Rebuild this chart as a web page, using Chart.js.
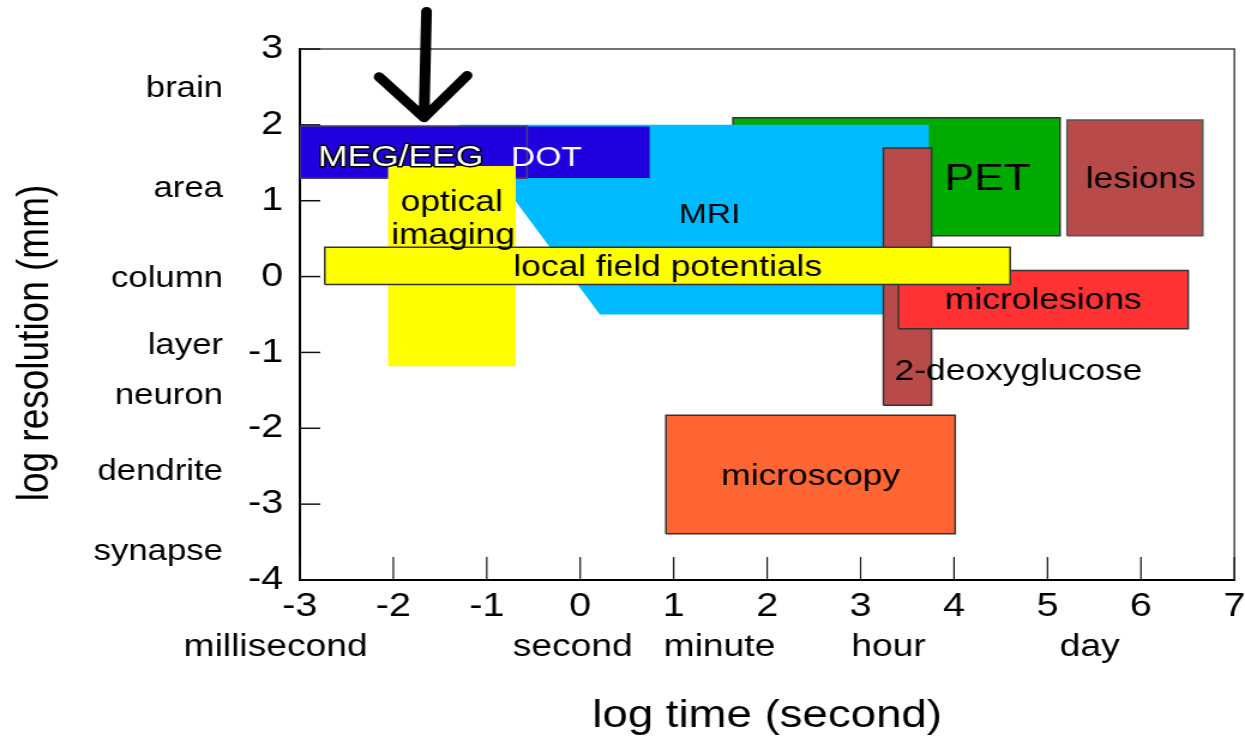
<!DOCTYPE html>
<html><head><meta charset="utf-8">
<script src="https://cdn.jsdelivr.net/npm/chart.js@4.4.1/dist/chart.umd.min.js"></script>
<style>
html,body{margin:0;padding:0;background:#fff;overflow:hidden;width:1245px;height:739px;}
#wrap{position:absolute;left:0;top:0;width:1038px;height:739px;transform:scaleX(1.19942);transform-origin:0 0;}
</style></head><body>
<div id="wrap"><canvas id="c"></canvas></div>
<script>
// ---------- data ----------
const xTicks = [-3,-2,-1,0,1,2,3,4,5,6,7];
const yTicks = [-4,-3,-2,-1,0,1,2,3];
const sizeNames = ['brain','area','column','layer','neuron','dendrite','synapse'];
const sizeRes   = [2.53, 1.21, 0.02, -0.86, -1.52, -2.53, -3.58];
const unitNames = ['millisecond','second','minute','hour','day'];
const unitTime  = [-3.26, -0.08, 1.49, 3.30, 5.45];

// rectangular methods (log time from/to, log resolution from/to)
const methods  = ['local field potentials','optical imaging','MEG/EEG','DOT','microlesions','2-deoxyglucose','PET','lesions','microscopy'];
const timeFrom = [-2.733, -2.056, -3.000, -1.500, 3.406, 3.244, 1.635, 5.209, 0.917];
const timeTo   = [ 4.601, -0.690, -0.569,  0.743, 6.505, 3.759, 5.134, 6.661, 4.012];
const resFrom  = [-0.106, -1.183,  1.297,  1.301, -0.687, -1.695, 0.539, 0.539, -3.390];
const resTo    = [ 0.386,  1.459,  1.984,  1.978,  0.079,  1.695, 2.095, 2.063, -1.827];

// MRI region outline
const mriTime = [-1.30, 3.73, 3.73, 0.21];
const mriRes  = [ 2.00, 2.00, -0.50, -0.50];

// hand-drawn arrow
const arrowTime = [-1.645, -1.671, -2.152, -1.671, -1.211];
const arrowRes  = [ 3.495,  2.095,  2.633,  2.095,  2.650];

// text labels inside the plot
const labelTexts = ['MEG/EEG','DOT','optical','imaging','MRI','local field potentials','PET','lesions','microlesions','2-deoxyglucose','microscopy'];
const labelTime  = [-1.922, -0.362, -1.374, -1.360, 1.385, 0.936, 4.360, 5.998, 4.955, 4.690, 2.466];
const labelRes   = [ 1.615,  1.615,  1.024,  0.587, 0.860, 0.170, 1.330, 1.330, -0.270, -1.197, -2.590];

// ---------- styles ----------
const FONT = "'Liberation Sans', Arial, Helvetica, sans-serif";
const TEXT_DY = 4; // baseline correction for 'middle' text
const fills = {
  'local field potentials':'#FFFF00','optical imaging':'#FFFF00','MEG/EEG':'#2200DD','DOT':'#2200DD',
  'microlesions':'#FF3333','2-deoxyglucose':'#B84A4A','PET':'#00AA00','lesions':'#B84A4A','microscopy':'#FF6633'
};
const borders = {
  'local field potentials':'#333333','optical imaging':null,'MEG/EEG':'#44446a','DOT':null,
  'microlesions':'#333333','2-deoxyglucose':'#333333','PET':'#333333','lesions':'#555555','microscopy':'#333333'
};
const labelStyle = {
  'MEG/EEG':{size:29.5,color:'#ffffff',stroke:'#000000'},
  'DOT':{size:28,color:'#ffffff'},
  'MRI':{size:28,color:'#000000'},
  'PET':{size:37,color:'#000000'}
};

function rectPoints(i){
  const a=timeFrom[i], b=timeTo[i], lo=resFrom[i], hi=resTo[i];
  return [{x:a,y:lo},{x:a,y:hi},{x:b,y:hi},{x:b,y:lo},{x:a,y:lo}];
}
function rectDataset(name){
  const i = methods.indexOf(name);
  const bc = borders[name];
  return {
    label:name, data:rectPoints(i), showLine:true, fill:'shape', tension:0,
    backgroundColor:fills[name], borderColor: bc || fills[name], borderWidth: bc ? 1.5 : 0,
    pointRadius:0, pointHoverRadius:0
  };
}
const mriPts = mriTime.map((t,i)=>({x:t,y:mriRes[i]}));
mriPts.push({x:mriTime[0],y:mriRes[0]});
const arrowPts = arrowTime.map((t,i)=>({x:t,y:arrowRes[i]}));

const datasets = [
  {label:'arrow', data:arrowPts, showLine:true, fill:false, tension:0, borderColor:'#000', borderWidth:9,
   borderCapStyle:'round', borderJoinStyle:'round', pointRadius:0, pointHoverRadius:0, clip:false},
  rectDataset('local field potentials'),
  rectDataset('optical imaging'),
  rectDataset('MEG/EEG'),
  rectDataset('DOT'),
  rectDataset('microlesions'),
  rectDataset('2-deoxyglucose'),
  {label:'MRI', data:mriPts, showLine:true, fill:'shape', tension:0, backgroundColor:'#00BBFF',
   borderColor:'#00BBFF', borderWidth:0, pointRadius:0, pointHoverRadius:0},
  rectDataset('PET'),
  rectDataset('lesions'),
  rectDataset('microscopy')
];

const overlay = {
  id:'overlay',
  beforeDatasetsDraw(chart){
    const {ctx, chartArea:a} = chart;
    ctx.save();
    ctx.strokeStyle = '#444';
    ctx.lineWidth = 1.5;
    ctx.beginPath();
    ctx.moveTo(a.left, a.top); ctx.lineTo(a.right, a.top); ctx.lineTo(a.right, a.bottom);
    ctx.stroke();
    ctx.restore();
  },
  afterDatasetsDraw(chart){
    const {ctx, chartArea:a, scales:{x, y}} = chart;
    ctx.save();
    ctx.strokeStyle = '#111';
    ctx.lineWidth = 1.5;
    yTicks.forEach(v=>{
      const py = y.getPixelForValue(v);
      ctx.beginPath(); ctx.moveTo(a.left, py); ctx.lineTo(a.left + 17, py); ctx.stroke();
    });
    ctx.lineWidth = 1.2;
    xTicks.forEach(v=>{
      const px = x.getPixelForValue(v);
      ctx.beginPath(); ctx.moveTo(px, a.bottom); ctx.lineTo(px, a.bottom - 23); ctx.stroke();
    });
    // labels inside the plot
    ctx.textAlign = 'center';
    ctx.textBaseline = 'middle';
    labelTexts.forEach((t,i)=>{
      const st = labelStyle[t] || {size:29.5,color:'#000000'};
      ctx.font = st.size + 'px ' + FONT;
      const px = x.getPixelForValue(labelTime[i]);
      const py = y.getPixelForValue(labelRes[i]) + TEXT_DY;
      if (st.stroke){
        ctx.lineWidth = 3; ctx.strokeStyle = st.stroke; ctx.lineJoin = 'round';
        ctx.strokeText(t, px, py);
      }
      ctx.fillStyle = st.color;
      ctx.fillText(t, px, py);
    });
    ctx.restore();
  },
  afterDraw(chart){
    const {ctx, scales:{x, y}} = chart;
    ctx.save();
    ctx.fillStyle = '#000';
    ctx.textBaseline = 'middle';
    // size categories on the left
    ctx.font = '29px ' + FONT;
    ctx.textAlign = 'right';
    sizeNames.forEach((n,i)=>{
      ctx.fillText(n, 186, y.getPixelForValue(sizeRes[i]) + TEXT_DY);
    });
    // time units below the ticks
    ctx.font = '31px ' + FONT;
    ctx.textAlign = 'center';
    unitNames.forEach((n,i)=>{
      ctx.fillText(n, x.getPixelForValue(unitTime[i]), 643 + TEXT_DY);
    });
    // y axis title
    ctx.font = '37px ' + FONT;
    ctx.translate(30, 343);
    ctx.rotate(-Math.PI/2);
    ctx.fillText('log resolution (mm)', 0, 0);
    ctx.restore();
  }
};

new Chart(document.getElementById('c'), {
  type:'scatter',
  data:{datasets},
  options:{
    responsive:true, maintainAspectRatio:false, animation:false, events:[],
    layout:{padding:{left:0, right:8.83, top:49, bottom:0}},
    plugins:{legend:{display:false}, tooltip:{enabled:false}, title:{display:false}},
    scales:{
      x:{
        type:'linear', position:'bottom', min:-3, max:7,
        afterBuildTicks:(s)=>{ s.ticks = xTicks.map(v=>({value:v})); },
        ticks:{autoSkip:false, maxRotation:0, padding:7, color:'#000', font:{family:FONT, size:33, lineHeight:1.2}},
        grid:{display:false, drawTicks:false},
        border:{display:true, color:'#000', width:2},
        title:{display:true, text:'log time (second)', color:'#000', font:{family:FONT, size:38, lineHeight:1}, padding:{top:0, bottom:3}},
        afterFit:(s)=>{ s.height = 159; s.paddingLeft = 0; s.paddingRight = 0; }
      },
      y:{
        type:'linear', position:'left', min:-4, max:3,
        afterBuildTicks:(s)=>{ s.ticks = yTicks.map(v=>({value:v})); },
        ticks:{autoSkip:false, padding:14, color:'#000', font:{family:FONT, size:33, lineHeight:1.2}},
        grid:{display:false, drawTicks:false},
        border:{display:true, color:'#000', width:2},
        afterFit:(s)=>{ s.width = 250; s.paddingTop = 0; s.paddingBottom = 0; }
      }
    }
  },
  plugins:[overlay]
});
</script>
</body></html>
